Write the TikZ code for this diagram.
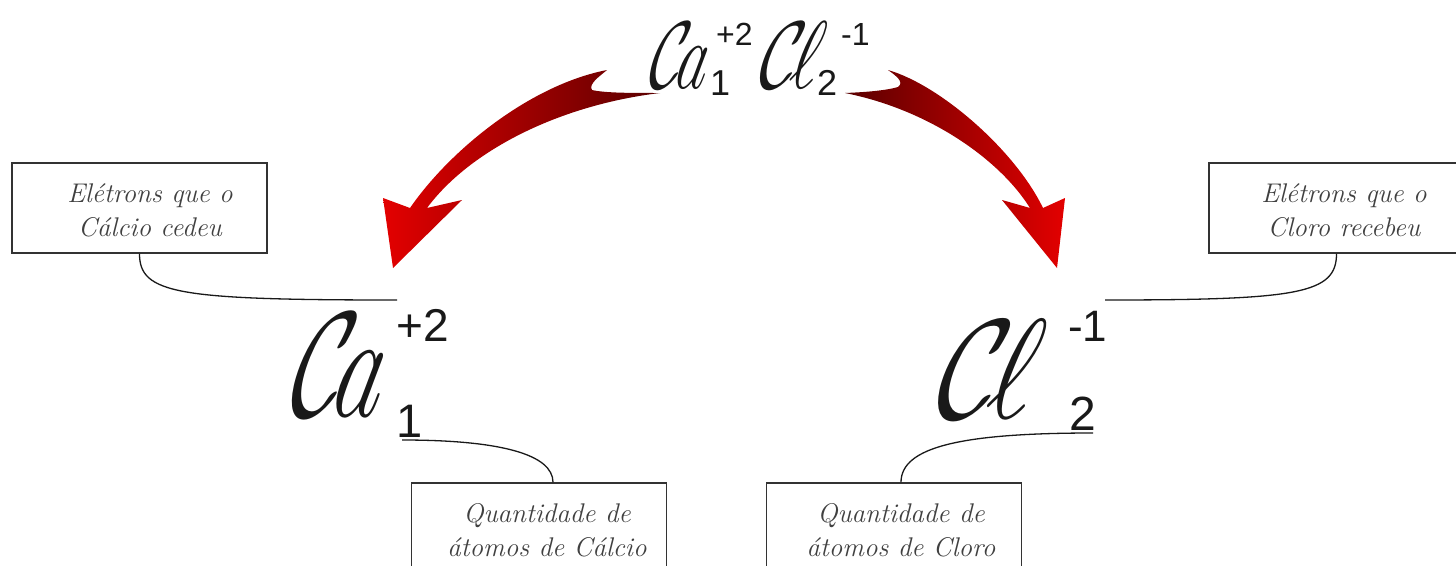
\documentclass[tikz,border=0pt]{standalone}
\usepackage{fontspec}
\usepackage{graphicx}
\newfontfamily\arialfont{Liberation Sans}
\definecolor{arrowdark}{HTML}{5A0000}
\definecolor{arrowbright}{HTML}{E30000}
\definecolor{boxline}{HTML}{333333}
\definecolor{notetext}{HTML}{404040}
\begin{document}
\begin{tikzpicture}[x=1pt,y=-1pt,
  infobox/.style={draw=boxline, line width=1.4pt, minimum width=255pt, minimum height=90pt, inner sep=0pt},
  note/.style={font=\fontsize{27}{34}\selectfont\itshape, align=center, text=notetext, inner sep=0pt},
  symb/.style={inner sep=0pt, anchor=base west, text=black!90, xslant=0.22, transform shape},
  chg/.style={inner sep=0pt, anchor=base west, text=black!90},
  leader/.style={line width=1.3pt, black!90},
  arrowleft/.style={left color=arrowbright, right color=arrowdark},
  arrowright/.style={left color=arrowdark, right color=arrowbright}]
\useasboundingbox (0,0) rectangle (1456,565);

% curved arrows
\shade[arrowleft] (607,70) .. controls (530,85) and (450,150) .. (410,208)
  -- (383,198) -- (393,268) -- (462,200) -- (427,208)
  .. controls (470,150) and (560,105) .. (660,93)
  .. controls (630,93) and (605,93) .. (592,90)
  .. controls (588,84) and (600,76) .. (607,70) -- cycle;
\shade[arrowright] (888,70) .. controls (940,85) and (1015,150) .. (1043,208)
  -- (1065,198) -- (1057,268) -- (1002,200) -- (1030,208)
  .. controls (1000,160) and (930,110) .. (845,93)
  .. controls (870,92) and (888,90) .. (898,87)
  .. controls (905,82) and (895,75) .. (888,70) -- cycle;

% top formula
\node[symb] (topCa) at (646,88) {\scalebox{5.8}[9.6]{$\mathcal{C}\mkern-2mu a$}};
\node[chg, font=\fontsize{32}{32}\selectfont\arialfont] (topCaSup) at (716,45) {+2};
\node[chg, font=\fontsize{36}{36}\selectfont\arialfont] (topCaSub) at (710,95) {1};
\node[symb] (topCl) at (756,88) {\scalebox{6.6}[9.6]{$\mathcal{C}\mkern-2mu\ell$}};
\node[chg, font=\fontsize{32}{32}\selectfont\arialfont] (topClSup) at (841,45) {-1};
\node[chg, font=\fontsize{36}{36}\selectfont\arialfont] (topClSub) at (817,95) {2};

% big symbols
\node[symb] (bigCa) at (286,416) {\scalebox{9.2}[15]{$\mathcal{C}\mkern-2mu a$}};
\node[chg, font=\fontsize{46}{46}\selectfont\arialfont] (bigCaSup) at (396,341) {+2};
\node[chg, font=\fontsize{47}{47}\selectfont\arialfont] (bigCaSub) at (396,437) {1};
\node[symb] (bigCl) at (932,418) {\scalebox{10.8}[14.2]{$\mathcal{C}\mkern-2mu\ell$}};
\node[chg, font=\fontsize{44}{44}\selectfont\arialfont] (bigClSup) at (1068,341) {-1};
\node[chg, font=\fontsize{48}{48}\selectfont\arialfont] (bigClSub) at (1069,430) {2};

% boxes
\node[infobox] (tlbox) at (139.5,208) {};
\node[infobox] (trbox) at (1336.5,208) {};
\node[infobox] (blbox) at (539,528) {};
\node[infobox] (brbox) at (894,528) {};
\node[note] (tltext) at (150,210) {Elétrons que o\\Cálcio cedeu};
\node[note] (trtext) at (1344,210) {Elétrons que o\\Cloro recebeu};
\node[note] (bltext) at (547,530) {Quantidade de\\átomos de Cálcio};
\node[note] (brtext) at (901,530) {Quantidade de\\átomos de Cloro};

% leader lines
\coordinate (caUp) at (397,300);
\coordinate (clUp) at (1105,300);
\coordinate (caDown) at (402,440);
\coordinate (clDown) at (1093,433);
\coordinate (blAttach) at ([xshift=14pt]blbox.north);
\coordinate (brAttach) at ([xshift=7pt]brbox.north);
\draw[leader] (tlbox.south) .. controls +(0,40) and +(-220,0) .. (caUp);
\draw[leader] (trbox.south) .. controls +(0,40) and +(194,0) .. (clUp);
\draw[leader] (blAttach) .. controls +(0,-28) and +(98,0) .. (caDown);
\draw[leader] (brAttach) .. controls +(0,-35) and +(-133,0) .. (clDown);
\end{tikzpicture}
\end{document}
